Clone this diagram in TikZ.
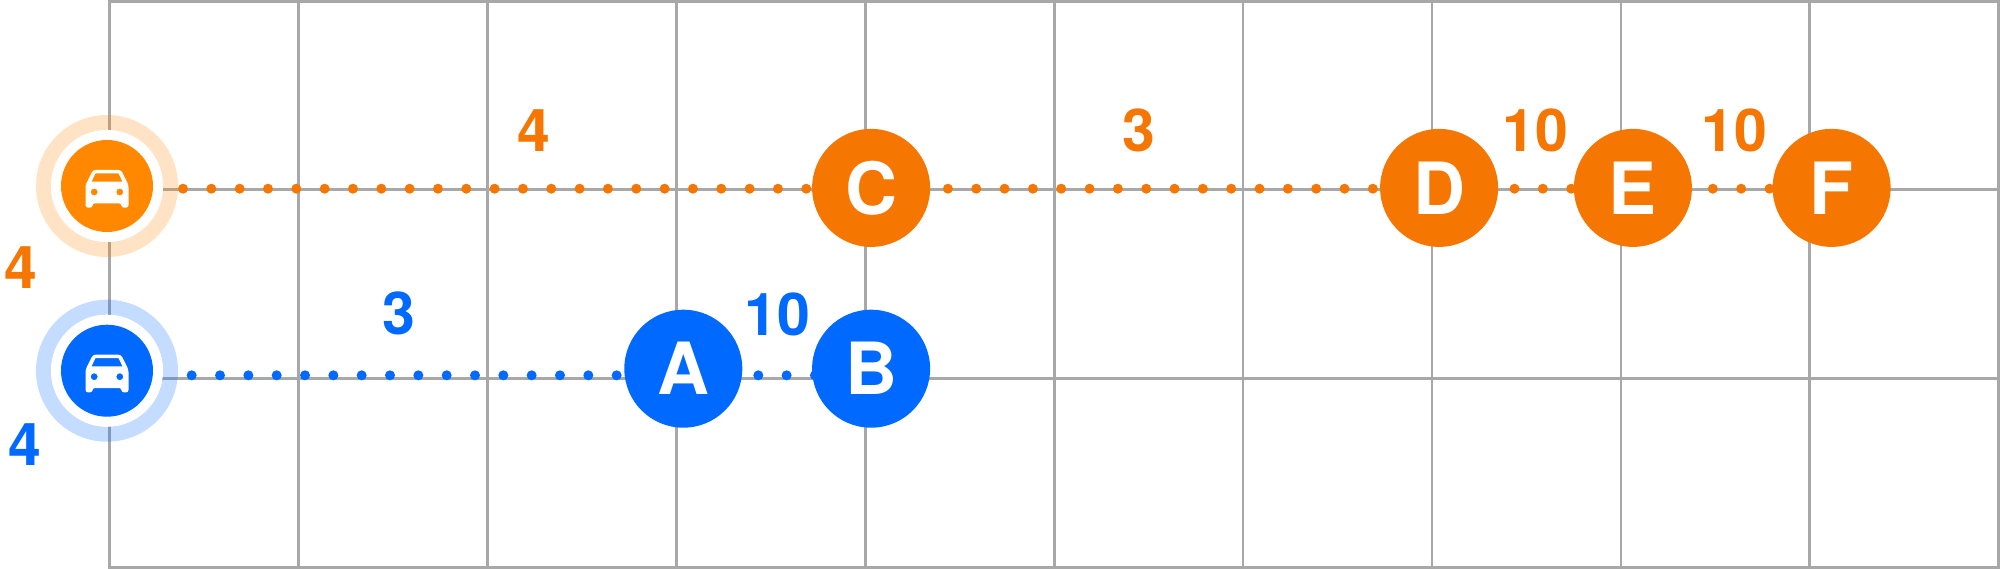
\documentclass[tikz,border=0pt]{standalone}
\usepackage{fontspec}
\setmainfont{TeX Gyre Heros}
\usetikzlibrary{positioning}
\definecolor{routeorange}{HTML}{F57600}
\definecolor{carorange}{HTML}{FF8800}
\definecolor{routeblue}{HTML}{0069FF}
\definecolor{gridgray}{HTML}{A8A8A8}
\tikzset{
    gridline/.style={draw=gridgray, line width=2.8pt},
    stopdisc/.style={circle, minimum size=118pt, inner sep=0pt, text=white, font=\fontsize{72}{72}\selectfont\bfseries},
    routedot/.style={circle, minimum size=10pt, inner sep=0pt},
    count/.style={inner sep=0pt, font=\fontsize{59}{59}\selectfont\bfseries},
    halo/.style={circle, minimum size=127pt, inner sep=0pt, line width=15pt, draw opacity=0.23},
    gap/.style={circle, minimum size=112pt, inner sep=0pt, fill=white},
    cardisc/.style={circle, minimum size=92pt, inner sep=0pt},
    car/.pic={
        \fill[white, even odd rule] [rounded corners=2.5pt]
            (-14,-16) -- (14,-16) -- (21.5,-1) -- (21.5,21.7) -- (14.5,21.7) -- (14.5,17.3)
            -- (-14.5,17.3) -- (-14.5,21.7) -- (-21.5,21.7) -- (-21.5,-1) -- cycle
            [sharp corners]
            (-11.5,-12.7) -- (11.5,-12.7) -- (15.5,-4.3) -- (-15.5,-4.3) -- cycle
            (-12.8,6) circle (3.5pt)
            (12.8,6) circle (3.5pt);
    }
}
\newcommand{\stopname}[1]{\raisebox{-1.7pt}{#1}}
\begin{document}
\begin{tikzpicture}[x=1pt, y=-1pt]
    \useasboundingbox (0,0) rectangle (2000,569);
    % set up the grid
    \foreach \i in {0,...,10} {
        \coordinate (top\i) at ({109.5+188.93*\i},1.3);
        \coordinate (bot\i) at ({109.5+188.93*\i},567.7);
        \draw[gridline] (top\i) -- (bot\i);
    }
    \foreach \j/\y in {0/1.3, 1/189.3, 2/378.3, 3/567.7} {
        \coordinate (lft\j) at (108.2,\y);
        \coordinate (rgt\j) at (2000,\y);
        \draw[gridline] (lft\j) -- (rgt\j);
    }
    % the dots of both routes
    \foreach \i in {0,...,56} {
        \node[routedot, fill=routeorange] (od\i) at ({183+28.33*\i},188.7) {};
    }
    \foreach \i in {0,...,22} {
        \node[routedot, fill=routeblue] (bd\i) at ({191.7+28.33*\i},375.3) {};
    }
    % the two cars
    \node[halo, draw=carorange] (haloO) at (107,186) {};
    \node[gap] (gapO) at (haloO) {};
    \node[cardisc, fill=carorange] (carO) at (haloO) {};
    \pic at (carO) {car};
    \node[halo, draw=routeblue] (haloB) at (107,370.7) {};
    \node[gap] (gapB) at (haloB) {};
    \node[cardisc, fill=routeblue] (carB) at (haloB) {};
    \pic at (carB) {car};
    % set up the stops
    \node[stopdisc, fill=routeblue] (A) at (683.3,368.7) {\stopname{A}};
    \node[stopdisc, fill=routeblue, right=69.4pt of A] (B) {\stopname{B}};
    \node[stopdisc, fill=routeorange, above=62.4pt of B] (C) {\stopname{C}};
    \node[stopdisc, fill=routeorange, right=449.6pt of C] (D) {\stopname{D}};
    \node[stopdisc, fill=routeorange, right=75.4pt of D] (E) {\stopname{E}};
    \node[stopdisc, fill=routeorange, right=80.3pt of E] (F) {\stopname{F}};
    % numbers next to them
    \node[count, text=routeorange] (nO) at (21,268) {4};
    \node[count, text=routeblue] (nB) at (25,445) {4};
    \node[count, text=routeorange] (nC) at (534,130.7) {4};
    \node[count, text=routeorange] (nD) at (1139,130.7) {3};
    \node[count, text=routeorange] (nE) at (1535.7,130.7) {10};
    \node[count, text=routeorange] (nF) at (1734.7,130.7) {10};
    \node[count, text=routeblue] (nA) at (399,313) {3};
    \node[count, text=routeblue] (nAB) at (777,314) {10};
\end{tikzpicture}
\end{document}
